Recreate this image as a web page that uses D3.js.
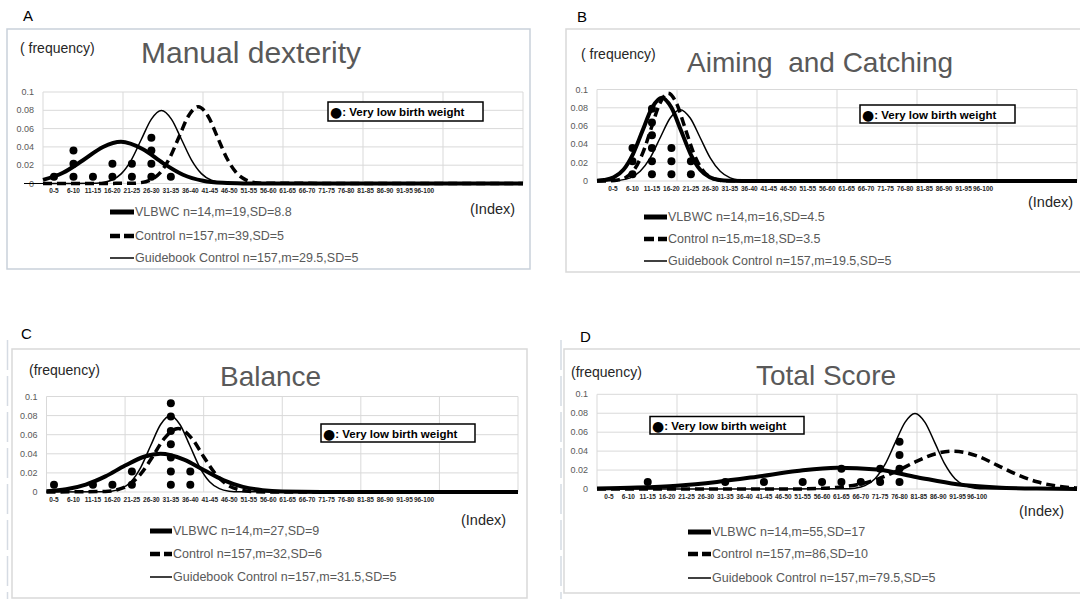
<!DOCTYPE html>
<html lang="en">
<head>
    <meta charset="UTF-8">
    <title>Movement ABC distributions</title>
    <style>
        body {
            margin: 0;
            background: #ffffff;
        }

        svg text {
            font-family: "Liberation Sans", Arial, sans-serif;
        }

        .grid {
            stroke: #d9d9d9;
            stroke-width: 1;
        }

        .tick-label {
            font-size: 9px;
            fill: #595959;
            text-anchor: end;
            dominant-baseline: central;
        }

        .cat-label {
            font-size: 6.5px;
            font-weight: bold;
            fill: #262626;
            text-anchor: middle;
            dominant-baseline: central;
        }

        .title {
            fill: #595959;
            dominant-baseline: central;
            white-space: pre;
        }

        .legend-text {
            font-size: 12.5px;
            fill: #595959;
            dominant-baseline: central;
        }
    </style>
</head>
<body>
    <div id="chart"></div>

    <script src="https://d3js.org/d3.v7.min.js"></script>
    <script>
        // ---- data ----
        const categories = ["0-5", "6-10", "11-15", "16-20", "21-25", "26-30", "31-35", "36-40", "41-45", "46-50",
            "51-55", "56-60", "61-65", "66-70", "71-75", "76-80", "81-85", "86-90", "91-95", "96-100"];
        const yTicks = [0, 0.02, 0.04, 0.06, 0.08, 0.1];
        const yTickLabels = ["0", "0.02", "0.04", "0.06", "0.08", "0.1"];
        const xGrid = [0, 20, 40, 60, 80, 100, 120];

        // A: Manual dexterity
        const manualVlbwX = [0, 5, 10, 15, 19.5, 25, 30, 35, 40, 45, 50, 55, 120];
        const manualVlbwY = [0.0039, 0.0117, 0.0254, 0.0399, 0.0455, 0.0374, 0.0223, 0.0096, 0.0030, 0.0007, 0.0001, 0, 0];
        const manualCtrlX = [0, 22, 24.4, 26.8, 29.2, 31.6, 34, 36.4, 38.8, 41.2, 43.6, 46, 48.4, 50.8, 53.2, 55.6, 120];
        const manualCtrlY = [0, 0.0002, 0.0009, 0.0037, 0.0114, 0.0273, 0.0509, 0.0741, 0.084, 0.0741, 0.0509, 0.0273, 0.0114, 0.0037, 0.0009, 0.0002, 0];
        const manualGuideX = [0, 12.1, 14.6, 17.1, 19.6, 22.1, 24.6, 27.1, 29.6, 32.1, 34.6, 37.1, 39.6, 42.1, 44.6, 47.1, 120];
        const manualGuideY = [0, 0.0002, 0.0009, 0.0035, 0.0108, 0.0259, 0.0484, 0.0704, 0.0798, 0.0704, 0.0484, 0.0259, 0.0108, 0.0035, 0.0009, 0.0002, 0];
        const manualDots = [["0-5", 0.0075], ["6-10", 0.0075], ["6-10", 0.0215], ["6-10", 0.036], ["11-15", 0.0075],
            ["16-20", 0.0075], ["16-20", 0.0215], ["21-25", 0.0075], ["21-25", 0.0215], ["26-30", 0.0075],
            ["26-30", 0.0215], ["26-30", 0.036], ["26-30", 0.050], ["31-35", 0.0075]];
        const manualLegend = ["VLBWC n=14,m=19,SD=8.8", "Control n=157,m=39,SD=5", "Guidebook Control n=157,m=29.5,SD=5"];

        // B: Aiming and Catching
        const aimingVlbwX = [0, 1.8, 4.2, 6.6, 9, 11.4, 13.8, 16.2, 18.6, 21, 23.4, 25.8, 28.2, 30.6, 33, 38, 120];
        const aimingVlbwY = [0.0003, 0.0010, 0.0040, 0.0123, 0.0295, 0.0552, 0.0803, 0.091, 0.0803, 0.0552, 0.0295, 0.0123, 0.0040, 0.0010, 0.0002, 0, 0];
        const aimingCtrlX = [0, 3.1, 5.2, 7.3, 9.4, 11.5, 13.6, 15.7, 17.8, 19.9, 22, 24.1, 26.2, 28.3, 30.4, 32.5, 120];
        const aimingCtrlY = [0, 0.0002, 0.0011, 0.0042, 0.0130, 0.0312, 0.0582, 0.0847, 0.096, 0.0847, 0.0582, 0.0312, 0.0130, 0.0042, 0.0011, 0.0002, 0];
        const aimingGuideX = [0, 3.3, 5.8, 8.3, 10.8, 13.3, 15.8, 18.3, 20.8, 23.3, 25.8, 28.3, 30.8, 33.3, 35.8, 38.3, 120];
        const aimingGuideY = [0, 0.0002, 0.0009, 0.0034, 0.0106, 0.0253, 0.0473, 0.0688, 0.078, 0.0688, 0.0473, 0.0253, 0.0106, 0.0034, 0.0009, 0.0002, 0];
        const aimingDots = [["6-10", 0.0075], ["6-10", 0.0215], ["6-10", 0.036], ["11-15", 0.0075], ["11-15", 0.0215],
            ["11-15", 0.036], ["11-15", 0.050], ["11-15", 0.064], ["11-15", 0.079], ["16-20", 0.0075],
            ["16-20", 0.0215], ["16-20", 0.036], ["21-25", 0.0075], ["21-25", 0.0215]];
        const aimingLegend = ["VLBWC n=14,m=16,SD=4.5", "Control n=15,m=18,SD=3.5", "Guidebook Control n=157,m=19.5,SD=5"];

        // C: Balance
        const balanceVlbwX = [0, 5, 10, 15, 20, 25, 29, 35, 40, 45, 50, 55, 60, 70, 120];
        const balanceVlbwY = [0.0009, 0.0029, 0.0078, 0.0164, 0.0277, 0.0372, 0.0400, 0.0339, 0.0231, 0.0125, 0.0054, 0.0019, 0.0005, 0, 0];
        const balanceCtrlX = [0, 15, 18, 21, 24, 27, 30, 33.5, 37, 40, 43, 46, 49, 52, 58, 120];
        const balanceCtrlY = [0, 0.0006, 0.0024, 0.0076, 0.0190, 0.0370, 0.0561, 0.0665, 0.0561, 0.0370, 0.0190, 0.0076, 0.0024, 0.0006, 0, 0];
        const balanceGuideX = [0, 14, 16.5, 19, 21.5, 24, 26.5, 29, 31.5, 34, 36.5, 39, 41.5, 44, 46.5, 49, 120];
        const balanceGuideY = [0, 0.0002, 0.0009, 0.0035, 0.0108, 0.0259, 0.0484, 0.0704, 0.0798, 0.0704, 0.0484, 0.0259, 0.0108, 0.0035, 0.0009, 0.0002, 0];
        const balanceDots = [["0-5", 0.0075], ["11-15", 0.0075], ["16-20", 0.0075], ["21-25", 0.0075], ["21-25", 0.0215],
            ["31-35", 0.0075], ["31-35", 0.0215], ["31-35", 0.036], ["31-35", 0.050], ["31-35", 0.064],
            ["31-35", 0.079], ["31-35", 0.093], ["36-40", 0.0075], ["36-40", 0.0215]];
        const balanceLegend = ["VLBWC n=14,m=27,SD=9", "Control n=157,m=32,SD=6", "Guidebook Control n=157,m=31.5,SD=5"];

        // D: Total Score
        const totalVlbwX = [0, 10, 20, 30, 40, 50, 60, 70, 80, 90, 100, 110, 120];
        const totalVlbwY = [0.0006, 0.0015, 0.0035, 0.0075, 0.0130, 0.0190, 0.0225, 0.0205, 0.0125, 0.0050, 0.0015, 0.0004, 0.0001];
        const totalCtrlX = [0, 50, 55, 60, 65, 70, 75, 80, 85, 89, 95, 100, 105, 110, 115, 120];
        const totalCtrlY = [0, 0, 0.0005, 0.0017, 0.0045, 0.0102, 0.0191, 0.0294, 0.0376, 0.0400, 0.0349, 0.0253, 0.0152, 0.0076, 0.0031, 0.0010];
        const totalGuideX = [0, 62, 64.5, 67, 69.5, 72, 74.5, 77, 79.5, 82, 84.5, 87, 89.5, 92, 94.5, 97, 120];
        const totalGuideY = [0, 0.0002, 0.0009, 0.0035, 0.0108, 0.0259, 0.0484, 0.0704, 0.0798, 0.0704, 0.0484, 0.0259, 0.0108, 0.0035, 0.0009, 0.0002, 0];
        const totalDots = [["11-15", 0.0075], ["31-35", 0.0075], ["41-45", 0.0075], ["51-55", 0.0075], ["56-60", 0.0075],
            ["61-65", 0.0075], ["61-65", 0.0215], ["66-70", 0.0075], ["71-75", 0.0075], ["71-75", 0.0215],
            ["76-80", 0.0075], ["76-80", 0.0215], ["76-80", 0.036], ["76-80", 0.050]];
        const totalLegend = ["VLBWC n=14,m=55,SD=17", "Control n=157,m=86,SD=10", "Guidebook Control n=157,m=79.5,SD=5"];

        const keyMark = "\u25CF";
        const keyLabel = ": Very low birth weight";

        // ---- layout of the four panels ----
        const panels = [
            {
                letter: "A", letterPos: [23, 15], title: "Manual dexterity", titlePos: [141, 52], titleSize: 30,
                freq: "( frequency)", freqPos: [20, 48],
                frame: { x: 7, y: 29, w: 523, h: 240, color: "#c9d1da" },
                plot: { left: 43, right: 523, top: 92, zero: 183.5 }, catRange: [54, 424],
                keyBox: { x: 328, y: 102, w: 155, h: 19 },
                index: [470, 209], legendPos: { x1: 110, x2: 134, ys: [212, 236, 258] },
                series: [[manualVlbwX, manualVlbwY], [manualCtrlX, manualCtrlY], [manualGuideX, manualGuideY]],
                dots: manualDots, legend: manualLegend, axisStub: true
            },
            {
                letter: "B", letterPos: [577, 16], title: "Aiming  and Catching", titlePos: [687, 62], titleSize: 28,
                freq: "( frequency)", freqPos: [581, 54],
                frame: { x: 566, y: 29, w: 530, h: 243, color: "#d9d9d9" },
                plot: { left: 597, right: 1077, top: 89.5, zero: 181 }, catRange: [613, 983],
                keyBox: { x: 860, y: 105, w: 155, h: 18 },
                index: [1028, 202], legendPos: { x1: 644, x2: 667, ys: [217, 239, 261] },
                series: [[aimingVlbwX, aimingVlbwY], [aimingCtrlX, aimingCtrlY], [aimingGuideX, aimingGuideY]],
                dots: aimingDots, legend: aimingLegend
            },
            {
                letter: "C", letterPos: [21, 333], title: "Balance", titlePos: [220, 376], titleSize: 28,
                freq: "(frequency)", freqPos: [29, 370],
                frame: { x: 12, y: 349, w: 515, h: 249, color: "#d9d9d9" },
                plot: { left: 46.5, right: 518, top: 396.5, zero: 492 }, catRange: [54, 424],
                keyBox: { x: 321, y: 424, w: 154, h: 18 },
                index: [461, 520], legendPos: { x1: 150, x2: 172, ys: [531, 554, 577] },
                series: [[balanceVlbwX, balanceVlbwY], [balanceCtrlX, balanceCtrlY], [balanceGuideX, balanceGuideY]],
                dots: balanceDots, legend: balanceLegend, sideDash: 7.5
            },
            {
                letter: "D", letterPos: [580, 336], title: "Total Score", titlePos: [756, 375], titleSize: 28,
                freq: "(frequency)", freqPos: [571, 372],
                frame: { x: 564, y: 349, w: 530, h: 244, color: "#d9d9d9" },
                plot: { left: 597, right: 1077, top: 394.3, zero: 489 }, catRange: [609, 977],
                keyBox: { x: 650, y: 416.5, w: 154, h: 17.5 },
                index: [1019, 511], legendPos: { x1: 688, x2: 711, ys: [532, 554, 578] },
                series: [[totalVlbwX, totalVlbwY], [totalCtrlX, totalCtrlY], [totalGuideX, totalGuideY]],
                dots: totalDots, legend: totalLegend, sideDash: 561
            }
        ];

        // line styles: VLBWC thick, Control dashed, Guidebook thin
        const styles = [
            { width: 4, dash: null },
            { width: 3.5, dash: "9,5" },
            { width: 1.5, dash: null }
        ];
        const legendStyles = [
            { width: 5, dash: null },
            { width: 4.5, dash: "10,4" },
            { width: 1.5, dash: null }
        ];

        const svg = d3.select("#chart").append("svg")
            .attr("width", 1080)
            .attr("height", 599);

        function drawPanel(p) {
            const x = d3.scaleLinear().domain([0, 120]).range([p.plot.left, p.plot.right]);
            const y = d3.scaleLinear().domain([0, 0.1]).range([p.plot.zero, p.plot.top]);
            const cx = d3.scalePoint().domain(categories).range(p.catRange);

            const g = svg.append("g");

            // faint dashed guide at the left edge (from the page layout)
            if (p.sideDash) {
                g.append("line")
                    .attr("x1", p.sideDash).attr("x2", p.sideDash)
                    .attr("y1", 340).attr("y2", 599)
                    .attr("stroke", "#d5dbe3")
                    .attr("stroke-width", 1.5)
                    .attr("stroke-dasharray", "30,6");
            }

            // chart frame
            g.append("rect")
                .attr("x", p.frame.x).attr("y", p.frame.y)
                .attr("width", p.frame.w).attr("height", p.frame.h)
                .attr("fill", "#ffffff")
                .attr("stroke", p.frame.color)
                .attr("stroke-width", 1.5);

            g.append("text")
                .attr("x", p.letterPos[0]).attr("y", p.letterPos[1])
                .attr("dominant-baseline", "central")
                .style("font-size", "15px")
                .attr("fill", "#000")
                .text(p.letter);

            // gridlines
            g.selectAll(".hgrid").data(yTicks).join("line")
                .attr("class", "grid")
                .attr("x1", p.plot.left).attr("x2", p.plot.right)
                .attr("y1", d => y(d)).attr("y2", d => y(d));
            g.selectAll(".vgrid").data(xGrid).join("line")
                .attr("class", "grid")
                .attr("x1", d => x(d)).attr("x2", d => x(d))
                .attr("y1", y(0)).attr("y2", y(0.1));

            // y tick labels
            g.selectAll(".tick-label").data(yTicks).join("text")
                .attr("class", "tick-label")
                .attr("x", p.plot.left - 9)
                .attr("y", d => y(d))
                .text((d, i) => yTickLabels[i]);

            if (p.axisStub) {
                g.append("line")
                    .attr("x1", p.plot.left - 19).attr("x2", p.plot.left)
                    .attr("y1", y(0)).attr("y2", y(0))
                    .attr("stroke", "#000").attr("stroke-width", 1);
            }

            // category labels under the axis
            g.selectAll(".cat-label").data(categories).join("text")
                .attr("class", "cat-label")
                .attr("x", d => cx(d))
                .attr("y", y(0) + 7)
                .text(d => d);

            // distribution curves
            const line = d3.line()
                .x(d => x(d[0]))
                .y(d => y(d[1]))
                .curve(d3.curveMonotoneX);

            p.series.forEach((s, i) => {
                const pts = s[0].map((v, k) => [v, s[1][k]]);
                g.append("path")
                    .datum(pts)
                    .attr("d", line)
                    .attr("fill", "none")
                    .attr("stroke", "#000")
                    .attr("stroke-width", styles[i].width)
                    .attr("stroke-dasharray", styles[i].dash);
            });

            // individual VLBW children
            g.selectAll(".dot").data(p.dots).join("circle")
                .attr("class", "dot")
                .attr("cx", d => cx(d[0]))
                .attr("cy", d => y(d[1]))
                .attr("r", 4)
                .attr("fill", "#000");

            // key box
            g.append("rect")
                .attr("x", p.keyBox.x).attr("y", p.keyBox.y)
                .attr("width", p.keyBox.w).attr("height", p.keyBox.h)
                .attr("fill", "#fff")
                .attr("stroke", "#000")
                .attr("stroke-width", 1.5);
            const key = g.append("text")
                .attr("x", p.keyBox.x + 2)
                .attr("y", p.keyBox.y + p.keyBox.h / 2 + 0.5)
                .attr("dominant-baseline", "central")
                .style("font-weight", "bold")
                .attr("fill", "#000");
            key.append("tspan")
                .style("font-family", "DejaVu Sans")
                .style("font-size", "14px")
                .text(keyMark);
            key.append("tspan")
                .style("font-size", "11.5px")
                .text(keyLabel);

            // labels
            g.append("text")
                .attr("x", p.freqPos[0]).attr("y", p.freqPos[1])
                .attr("dominant-baseline", "central")
                .style("font-size", "14px")
                .attr("fill", "#262626")
                .text(p.freq);

            g.append("text")
                .attr("class", "title")
                .attr("x", p.titlePos[0]).attr("y", p.titlePos[1])
                .attr("xml:space", "preserve")
                .style("font-size", p.titleSize + "px")
                .text(p.title);

            g.append("text")
                .attr("x", p.index[0]).attr("y", p.index[1])
                .attr("dominant-baseline", "central")
                .style("font-size", "14.5px")
                .attr("fill", "#262626")
                .text("(Index)");

            // series legend
            p.legend.forEach((label, i) => {
                const ly = p.legendPos.ys[i];
                g.append("line")
                    .attr("x1", p.legendPos.x1).attr("x2", p.legendPos.x2)
                    .attr("y1", ly).attr("y2", ly)
                    .attr("stroke", "#000")
                    .attr("stroke-width", legendStyles[i].width)
                    .attr("stroke-dasharray", legendStyles[i].dash);
                g.append("text")
                    .attr("class", "legend-text")
                    .attr("x", p.legendPos.x2 + 1)
                    .attr("y", ly)
                    .text(label);
            });
        }

        panels.forEach(drawPanel);
    </script>
</body>
</html>
